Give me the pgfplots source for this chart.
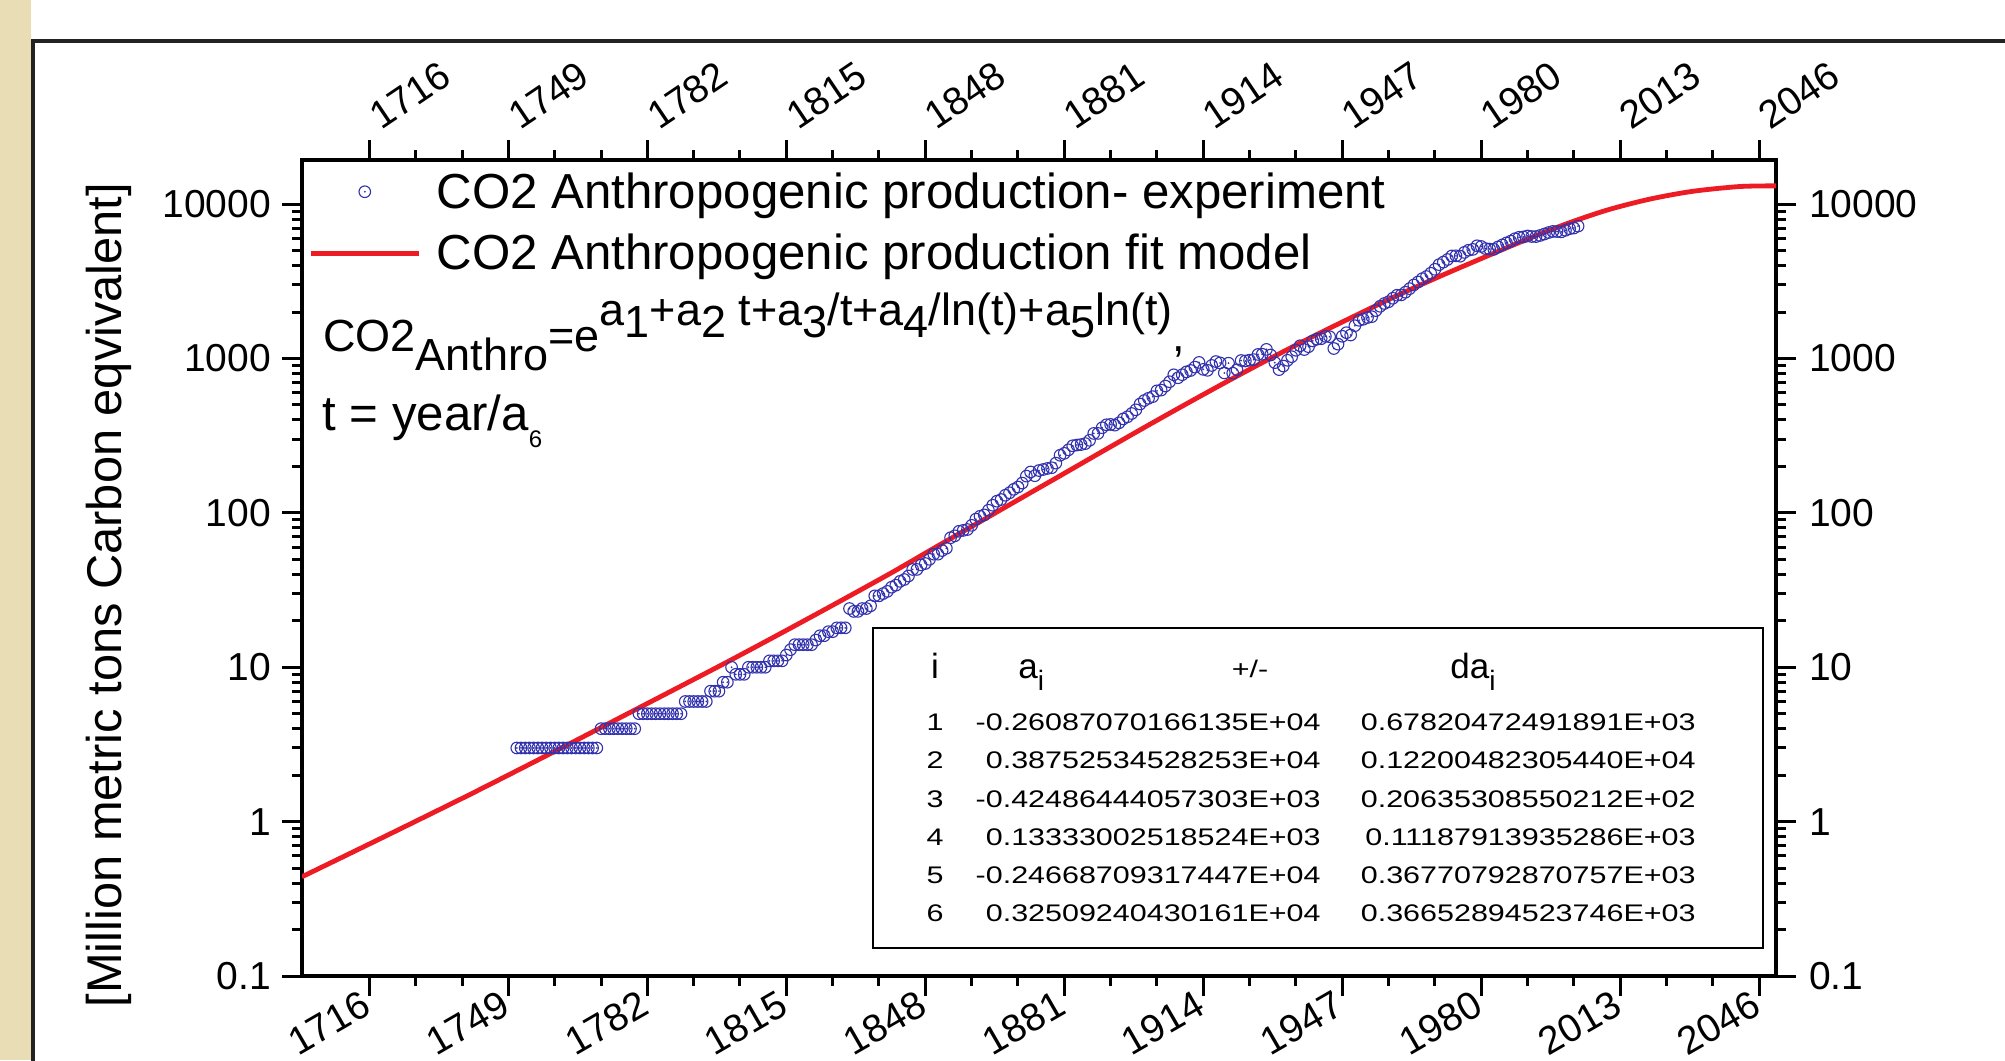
\documentclass[border=0pt]{standalone}
\usepackage{fontspec}
\setmainfont{Liberation Sans}
\usepackage{pgfplots}
\usepackage{pgfplotstable}
\pgfplotsset{compat=1.18}
\definecolor{beige}{RGB}{232,221,181}
\definecolor{markblue}{RGB}{50,50,175}
\definecolor{fitred}{RGB}{237,28,36}
\definecolor{framegray}{RGB}{35,35,35}
\newcommand\ticksize{\fontsize{19.5}{22}\selectfont}
\newcommand\legsize{\fontsize{24.6}{29}\selectfont}
\newcommand\frmsize{\fontsize{22.5}{27}\selectfont}
\newcommand\labsize{\fontsize{24.4}{29}\selectfont}
\newcommand\hdr{\fontsize{17.5}{20}\selectfont}
\newcommand\rowf{\fontsize{12}{14}\selectfont}
\newcommand\sx[1]{\scalebox{1.27}[1]{#1}}
\pgfdeclareplotmark{cdot}{%
  \pgfpathcircle{\pgfpointorigin}{\pgfplotmarksize}\pgfusepathqstroke
  \pgfpathcircle{\pgfpointorigin}{0.5pt}\pgfusepathqfill}
\pgfplotsset{
  legline/.style={legend image code/.code={\draw[##1] (0pt,0pt) -- (54pt,0pt);}},
  legmark/.style={legend image code/.code={\draw[##1, only marks, mark repeat=2, mark phase=2] plot coordinates {(0pt,0pt) (27pt,0pt) (54pt,0pt)};}},
}

\pgfplotstableread{
year co2
1751 3
1752 3
1753 3
1754 3
1755 3
1756 3
1757 3
1758 3
1759 3
1760 3
1761 3
1762 3
1763 3
1764 3
1765 3
1766 3
1767 3
1768 3
1769 3
1770 3
1771 4
1772 4
1773 4
1774 4
1775 4
1776 4
1777 4
1778 4
1779 4
1780 5
1781 5
1782 5
1783 5
1784 5
1785 5
1786 5
1787 5
1788 5
1789 5
1790 5
1791 6
1792 6
1793 6
1794 6
1795 6
1796 6
1797 7
1798 7
1799 7
1800 8
1801 8
1802 10
1803 9
1804 9
1805 9
1806 10
1807 10
1808 10
1809 10
1810 10
1811 11
1812 11
1813 11
1814 11
1815 12
1816 13
1817 14
1818 14
1819 14
1820 14
1821 14
1822 15
1823 16
1824 16
1825 17
1826 17
1827 18
1828 18
1829 18
1830 24
1831 23
1832 23
1833 24
1834 24
1835 25
1836 29
1837 29
1838 30
1839 31
1840 33
1841 34
1842 36
1843 37
1844 39
1845 43
1846 43
1847 46
1848 47
1849 50
1850 54
1851 54
1852 57
1853 59
1854 69
1855 71
1856 76
1857 77
1858 78
1859 83
1860 91
1861 95
1862 97
1863 104
1864 112
1865 119
1866 122
1867 130
1868 135
1869 142
1870 147
1871 156
1872 173
1873 184
1874 174
1875 188
1876 191
1877 194
1878 196
1879 210
1880 236
1881 243
1882 256
1883 272
1884 275
1885 277
1886 281
1887 295
1888 327
1889 327
1890 356
1891 372
1892 374
1893 370
1894 383
1895 406
1896 419
1897 440
1898 465
1899 507
1900 534
1901 552
1902 566
1903 617
1904 624
1905 663
1906 707
1907 784
1908 750
1909 785
1910 819
1911 836
1912 879
1913 943
1914 850
1915 838
1916 901
1917 955
1918 936
1919 806
1920 932
1921 803
1922 845
1923 970
1924 963
1925 975
1926 983
1927 1062
1928 1065
1929 1145
1930 1053
1931 940
1932 847
1933 893
1934 973
1935 1027
1936 1130
1937 1209
1938 1142
1939 1192
1940 1299
1941 1334
1942 1342
1943 1391
1944 1383
1945 1160
1946 1238
1947 1392
1948 1469
1949 1419
1950 1630
1951 1767
1952 1795
1953 1841
1954 1865
1955 2042
1956 2177
1957 2270
1958 2330
1959 2454
1960 2569
1961 2580
1962 2686
1963 2833
1964 2995
1965 3130
1966 3288
1967 3393
1968 3566
1969 3780
1970 4053
1971 4208
1972 4376
1973 4614
1974 4623
1975 4596
1976 4864
1977 5026
1978 5087
1979 5369
1980 5315
1981 5152
1982 5113
1983 5094
1984 5280
1985 5439
1986 5607
1987 5752
1988 5965
1989 6097
1990 6127
1991 6217
1992 6164
1993 6162
1994 6266
1995 6398
1996 6542
1997 6651
1998 6643
1999 6610
2000 6765
2001 6927
2002 6996
2003 7200
}\expdata

\begin{document}
\begin{tikzpicture}
\begin{scope}[x=0.5pt,y=-0.5pt]
\fill[white] (0,0) rectangle (2005,1060);
\fill[beige] (0,0) rectangle (31,1060);
\draw[framegray, line width=2pt] (33,1075) -- (33,41) -- (2020,41);
\end{scope}

\begin{axis}[
  at={(151pt,-488pt)}, anchor=south west,
  scale only axis, width=737pt, height=408pt,
  xmin=1700, xmax=2050, ymode=log, ymin=0.1, ymax=19300,
  xtick={1716,1749,1782,1815,1848,1881,1914,1947,1980,2013,2046},
  minor x tick num=2,
  ytick={0.1,1,10,100,1000,10000},
  yticklabels={0.1,1,10,100,1000,10000},
  minor ytick={0.2,0.3,0.4,0.5,0.6,0.7,0.8,0.9,2,3,4,5,6,7,8,9,20,30,40,50,60,70,80,90,200,300,400,500,600,700,800,900,2000,3000,4000,5000,6000,7000,8000,9000},
  tick align=outside,
  major tick length=10pt, minor tick length=5pt,
  every tick/.append style={black, line width=1.5pt},
  axis line style={line width=1.6pt},
  x tick label style={rotate=30, anchor=north east, font=\ticksize, xshift=1pt, yshift=9pt, /pgf/number format/1000 sep={}},
  y tick label style={font=\ticksize, xshift=-2pt},
  /pgf/number format/assume math mode=true,
  legend style={draw=none, fill=none, at={(0,1)}, anchor=north west, xshift=3pt, yshift=-6pt,
    font=\legsize, inner sep=0pt, row sep=11.5pt, nodes={inner sep=0pt},
    /tikz/every odd column/.append style={column sep=7.7pt}},
  legend cell align=left,
]
\addplot[only marks, mark=cdot, mark size=2.9pt,
  mark options={draw=markblue, fill=markblue, line width=0.55pt}, legmark]
  table[x=year,y=co2]{\expdata};
\addlegendentry{CO2 Anthropogenic production- experiment}
\addplot[fitred, line width=2.4pt, smooth, legline]
  coordinates {(1700,0.4395) (1710,0.5964) (1720,0.8101) (1730,1.103) (1740,1.505) (1750,2.068) (1760,2.851) (1770,3.940) (1780,5.458) (1790,7.558) (1800,10.48) (1810,14.64) (1820,20.54) (1830,28.94) (1840,40.98) (1850,58.96) (1860,84.5) (1870,121.3) (1880,173.8) (1890,249.5) (1900,357.3) (1910,508.2) (1920,717.8) (1930,1003.5) (1940,1386.8) (1950,1888) (1960,2553) (1970,3388) (1980,4436) (1990,5781) (2000,7413) (2010,9162) (2020,10765) (2030,12078) (2040,12912) (2045,13092) (2050,13122)};
\addlegendentry{CO2 Anthropogenic production fit model}
\end{axis}

\begin{axis}[
  at={(151pt,-488pt)}, anchor=south west,
  scale only axis, width=737pt, height=408pt,
  xmin=1700, xmax=2050, ymode=log, ymin=0.1, ymax=19300,
  xtick={1716,1749,1782,1815,1848,1881,1914,1947,1980,2013,2046},
  ytick={0.1,1,10,100,1000,10000},
  yticklabels={0.1,1,10,100,1000,10000},
  minor ytick={}, minor x tick num=0,
  xticklabel pos=upper, yticklabel pos=right,
  tick align=outside, major tick length=10pt,
  tick style={draw=none}, axis line style={draw=none},
  x tick label style={rotate=34, anchor=south west, font=\ticksize, xshift=4pt, yshift=-3pt, /pgf/number format/1000 sep={}},
  y tick label style={font=\ticksize, xshift=3pt},
  /pgf/number format/assume math mode=true,
]
\addplot[draw=none] coordinates {(1800,1)};
\end{axis}

\begin{scope}[x=0.5pt,y=-0.5pt]
\node[rotate=90, font=\labsize, inner sep=0pt] at (109,595) {[Million metric tons Carbon eqvivalent]};
\node[anchor=base west, inner sep=0pt, font=\frmsize] at (323,351)
  {CO2\raisebox{-9.5pt}{Anthro}=e\raisebox{13pt}{a\raisebox{-6pt}{1}+a\raisebox{-6pt}{2} t+a\raisebox{-6pt}{3}/t+a\raisebox{-6pt}{4}/ln(t)+a\raisebox{-6pt}{5}ln(t)},};
\node[anchor=base west, inner sep=0pt, font=\legsize] at (322,430)
  {t = year/a\raisebox{-8.5pt}{\fontsize{12}{14}\selectfont 6}};
% parameter table
\draw[line width=1pt] (873,628) rectangle (1763,948);
\node[anchor=base, inner sep=0pt, font=\hdr] at (935,678) {i};
\node[anchor=base west, inner sep=0pt, font=\hdr] at (1018,678) {a\raisebox{-6pt}{\fontsize{14}{16}\selectfont i}};
\node[anchor=center, inner sep=0pt, font=\rowf] at (1250,669) {\sx{+/-}};
\node[anchor=base west, inner sep=0pt, font=\hdr] at (1450,678) {da\raisebox{-6pt}{\fontsize{14}{16}\selectfont i}};
\foreach \k/\a/\d [count=\n] in {1/-0.26087070166135E+04/0.67820472491891E+03,
  2/0.38752534528253E+04/0.12200482305440E+04,
  3/-0.42486444057303E+03/0.20635308550212E+02,
  4/0.13333002518524E+03/0.11187913935286E+03,
  5/-0.24668709317447E+04/0.36770792870757E+03,
  6/0.32509240430161E+04/0.36652894523746E+03}{
  \node[anchor=base, inner sep=0pt, font=\rowf] at (935,692.5+38.2*\n) {\sx{\k}};
  \node[anchor=base east, inner sep=0pt, font=\rowf] at (1321,692.5+38.2*\n) {\sx{\a}};
  \node[anchor=base east, inner sep=0pt, font=\rowf] at (1696,692.5+38.2*\n) {\sx{\d}};
}
\end{scope}
\pgfresetboundingbox
\path[use as bounding box] (0pt,0pt) rectangle (1002.5pt,-530pt);
\end{tikzpicture}
\end{document}
